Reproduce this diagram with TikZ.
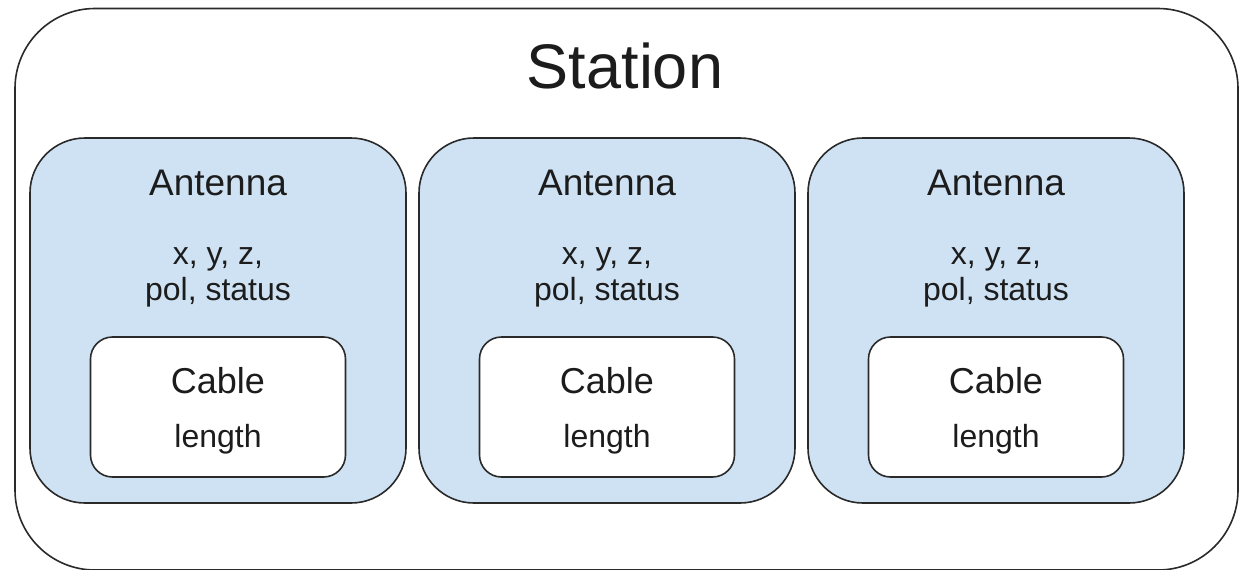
\documentclass[tikz,border=0pt]{standalone}
\usepackage{fontspec}
\setmainfont{Liberation Sans}
\definecolor{antfill}{HTML}{CFE2F3}
\definecolor{ink}{HTML}{1C1C1C}
\definecolor{edge}{HTML}{2A2A2A}
\tikzset{
  outerbox/.style={draw=edge, line width=1.6pt, rounded corners=80pt, inner sep=0pt, outer sep=0pt, fill=white},
  antbox/.style={draw=edge, line width=1.6pt, rounded corners=55pt, inner sep=0pt, outer sep=0pt, fill=antfill, minimum width=376pt, minimum height=365pt},
  cablebox/.style={draw=edge, line width=1.6pt, rounded corners=22pt, inner sep=0pt, outer sep=0pt, fill=white, minimum width=255pt, minimum height=140pt},
  bigtxt/.style={anchor=base, inner sep=0pt, text=ink, font=\fontsize{63}{70}\selectfont},
  titletxt/.style={anchor=base, inner sep=0pt, text=ink, font=\fontsize{37}{44}\selectfont},
  attrtxt/.style={anchor=base, inner sep=0pt, text=ink, font=\fontsize{32}{38}\selectfont}
}
\begin{document}
\begin{tikzpicture}[x=1pt,y=-1pt]
\useasboundingbox (0,0) rectangle (1243,570);
\fill[white] (0,0) rectangle (1243,570);
\node[outerbox, minimum width=1223pt, minimum height=561.5pt] (station) at (626.5,289.25) {};
\node[bigtxt] (stationlbl) at (625,88) {Station};
\foreach \i/\cx in {1/218, 2/607, 3/996} {
  \node[antbox] (ant\i) at (\cx,320.5) {};
  \node[titletxt] (antlbl\i) at (\cx,195) {Antenna};
  \node[attrtxt] (xyz\i) at (\cx,264) {x, y, z,};
  \node[attrtxt] (pol\i) at (\cx,300) {pol, status};
  \node[cablebox] (cable\i) at (\cx,407) {};
  \node[titletxt, font=\fontsize{36}{43}\selectfont] (cablelbl\i) at (\cx,393) {Cable};
  \node[attrtxt] (len\i) at (\cx,447) {length};
}
\end{tikzpicture}
\end{document}
